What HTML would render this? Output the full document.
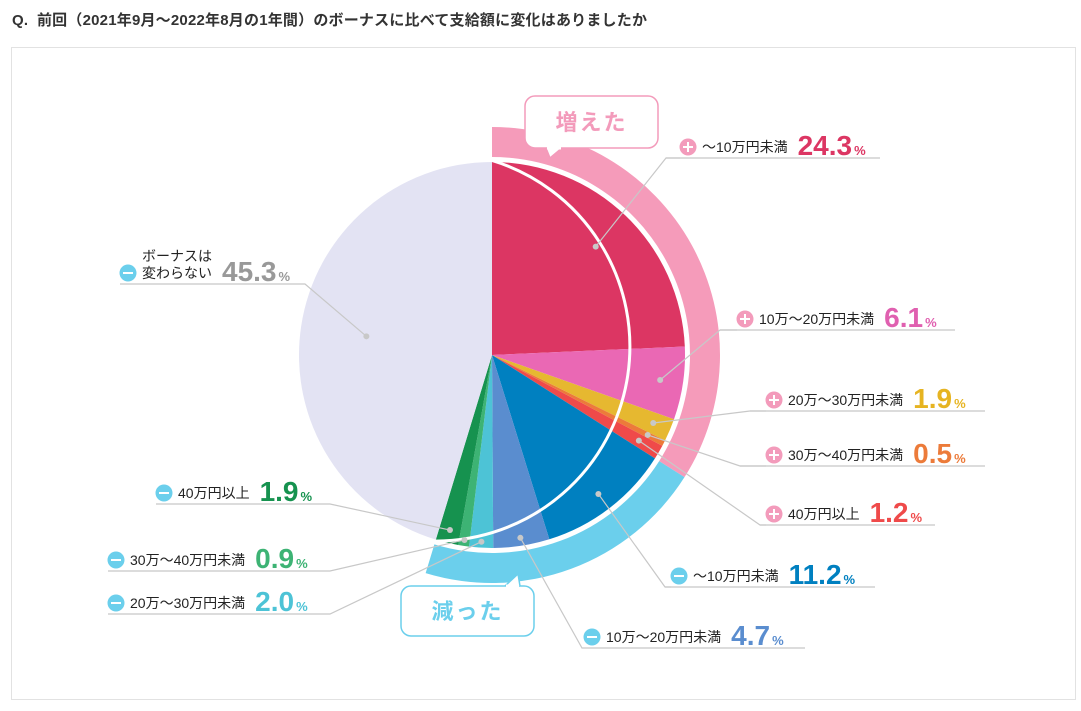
<!DOCTYPE html>
<html><head><meta charset="utf-8"><style>
html,body{margin:0;padding:0;background:#fff;width:1081px;height:711px;overflow:hidden;font-family:"Liberation Sans","Noto Sans CJK JP",sans-serif;}
#title{position:absolute;left:12px;top:9px;font-size:15px;font-weight:bold;color:#333;letter-spacing:0.2px;}
#frame{position:absolute;left:11px;top:47px;width:1063px;height:651px;border:1px solid #e2e2e2;}
svg{position:absolute;left:0;top:0;}
</style></head><body>
<div id="title">Q.&nbsp; 前回（2021年9月～2022年8月の1年間）のボーナスに比べて支給額に変化はありましたか</div>
<div id="frame"></div>
<svg id="chart" width="1081" height="711"></svg>
<script>
const categories=["～10万円未満","10万～20万円未満","20万～30万円未満","30万～40万円未満","40万円以上","～10万円未満","10万～20万円未満","20万～30万円未満","30万～40万円未満","40万円以上","ボーナスは変わらない"];
const values=[24.3,6.1,1.9,0.5,1.2,11.2,4.7,2.0,0.9,1.9,45.3];
const groups=["up","up","up","up","up","down","down","down","down","down","same"];
const sliceColors=["#dc3663","#ea68b4","#e6b830","#ec7b3a","#ef4a4a","#0080c0","#5a8dcf","#4dc3d6","#3db374","#16924f","#e3e3f3"];
const valueColors=["#dc3663","#e060b0","#e6b422","#ec7b3a","#ef4a4a","#0080c0","#5a8dcf","#4dc3d6","#3db374","#16924f","#999999"];
// label layout: [iconX, baselineY, lineStartX, lineEndX, elbowX, dotR, side]
const layout=[[688,152,680,880,666,150,"r"],[745,324,737,955,720,170,"r"],[774,405,766,985,750,175,"r"],[774,460,766,985,740,175,"r"],[774,519,766,935,760,170,"r"],[679,581,671,875,665,175,"r"],[592,642,582,805,582,185,"r"],[116,608,108,330,330,187,"l"],[116,565,108,330,330,187,"l"],[164,498,156,330,330,180,"l"],[128,278,120,305,305,127,"l"]];
const NS="http://www.w3.org/2000/svg";
const svg=document.getElementById('chart');
const cx=492,cy=355,R=193,RI=198,RO=228;
function mk(t,a,p){const e=document.createElementNS(NS,t);for(const k in a)e.setAttribute(k,a[k]);(p||svg).appendChild(e);return e;}
function pt(r,deg){const a=(deg-90)*Math.PI/180;return [cx+r*Math.cos(a),cy+r*Math.sin(a)];}
function angle(v){return v/100*360;}
function arcPath(r0,r1,a0,a1){const L=(a1-a0)>180?1:0;const p1=pt(r1,a0),p2=pt(r1,a1),p3=pt(r0,a1),p4=pt(r0,a0);
 if(r0===0)return `M${cx},${cy}L${p1}A${r1},${r1} 0 ${L} 1 ${p2}Z`;
 return `M${p1}A${r1},${r1} 0 ${L} 1 ${p2}L${p3}A${r0},${r0} 0 ${L} 0 ${p4}Z`;}
// rings
let upSum=0,downSum=0;values.forEach((v,i)=>{if(groups[i]=="up")upSum+=v;if(groups[i]=="down")downSum+=v;});
const ringUp=mk('path',{d:arcPath(RI,RO,0,angle(upSum)),fill:'#f59bba'});


const ringDown=mk('path',{d:arcPath(RI,RO,angle(upSum),angle(upSum+downSum)),fill:'#6bcfec'});


// slices
let acc=0;const mids=[];
values.forEach((v,i)=>{const a0=angle(acc),a1=angle(acc+v);mids.push((a0+a1)/2);
 const s=mk('path',{d:arcPath(0,R,a0,a1),fill:sliceColors[i]});
 
 
 acc+=v;});
mk('path',{d:`M${pt(R+1.5,0)}A${R+1.5},${R+1.5} 0 0 1 ${pt(R+1.5,angle(upSum+downSum))}`,fill:'none',stroke:'#fff','stroke-width':3});
// bubbles
function bubble(x,y,w,h,tail,col,txt,name){const g=mk('g',{});
 
 
 mk('rect',{x:x,y:y,width:w,height:h,rx:10,fill:'#fff',stroke:col,'stroke-width':1.5},g);
 mk('path',{d:tail,fill:'#fff',stroke:col,'stroke-width':1.5},g);
 mk('rect',{x:tail.split(' ')[0].slice(1)*1+1.5,y:tail.includes('up')?0:0,width:0,height:0},g);
 const t=mk('text',{x:x+w/2,y:y+h/2+8,'text-anchor':'middle','font-size':22,'font-weight':'bold',fill:col,'letter-spacing':2},g);t.textContent=txt;return g;}
bubble(525,96,133,52,"M546,148 L550,158 L562,148",'#f39bbb','増えた','increased-bubble');
mk('line',{x1:547,y1:148,x2:561,y2:148,stroke:'#fff','stroke-width':3});
bubble(401,586,133,50,"M505,586 L518,574 L520,586",'#6bcfec','減った','decreased-bubble');
mk('line',{x1:506,y1:586,x2:519,y2:586,stroke:'#fff','stroke-width':3});
// labels
values.forEach((v,i)=>{const [ix,by,lx0,lx1,ex,dr,side]=layout[i];
 const d=pt(dr,mids[i]);
 const ly=by+6;
 const ln=mk('polyline',{points:`${d[0]},${d[1]} ${ex},${ly} ${side=='r'?lx1:lx0},${ly}`,fill:'none',stroke:'#c8c8c8','stroke-width':1.2});
 
 
 if(side=='r'){ln.setAttribute('points',`${d[0]},${d[1]} ${ex},${ly} ${lx1},${ly}`);mk('line',{x1:ex,y1:ly,x2:lx0,y2:ly,stroke:'#c8c8c8','stroke-width':1.2});}
 mk('circle',{cx:d[0],cy:d[1],r:3,fill:'#c8c8c8'});
 const g=mk('g',{});
 
 
 const up=groups[i]=="up";
 mk('circle',{cx:ix,cy:by-5,r:8.5,fill:up?'#f39bbb':'#6bcfec'},g);
 mk('rect',{x:ix-5,y:by-6,width:10,height:2,fill:'#fff'},g);
 if(up)mk('rect',{x:ix-1,y:by-10,width:2,height:10,fill:'#fff'},g);
 let tx=ix+14;
 if(i==10){
  const t1=mk('text',{x:tx,y:by-17,'font-size':14,fill:'#222'},g);t1.textContent='ボーナスは';
  const t2=mk('text',{x:tx,y:by,'font-size':14,fill:'#222'},g);t2.textContent='変わらない';tx+=80;
 } else {
  const t=mk('text',{x:tx,y:by,'font-size':14,fill:'#222'},g);t.textContent=categories[i];
  tx+=t.getComputedTextLength()+10;
 }
 const vt=mk('text',{x:tx,y:by+3,'font-size':28,'font-weight':'bold',fill:valueColors[i]},g);vt.textContent=v.toFixed(1);
 const pc=mk('text',{x:tx+vt.getComputedTextLength()+2,y:by+3,'font-size':13,'font-weight':'bold',fill:valueColors[i]},g);pc.textContent='%';
});
</script>
</body></html>
